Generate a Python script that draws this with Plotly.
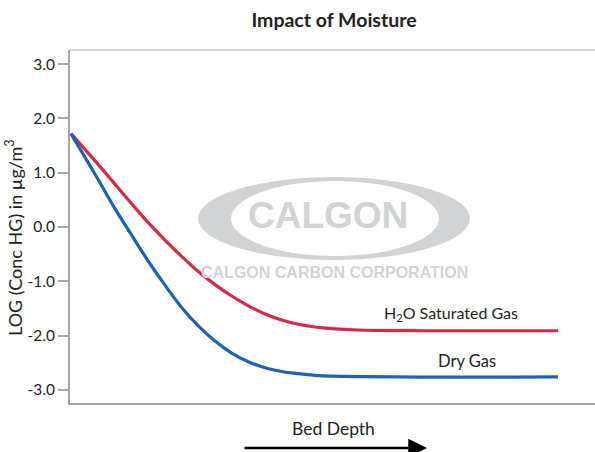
import plotly.graph_objects as go

# ---- data ----
bed_depth = [0, 5.61, 9.03, 12.46, 15.88, 19.30, 22.72, 26.15, 29.57, 32.99, 36.41,
             39.84, 43.26, 46.68, 50.10, 53.53, 60.37, 72.69, 100]
h2o_saturated = [1.72, 1.15, 0.79, 0.43, 0.08, -0.24, -0.54, -0.82, -1.06, -1.27, -1.45,
                 -1.60, -1.71, -1.79, -1.84, -1.87, -1.90, -1.91, -1.91]
dry_gas = [1.72, 0.87, 0.34, -0.15, -0.63, -1.07, -1.48, -1.82, -2.10, -2.32, -2.48,
           -2.59, -2.66, -2.70, -2.73, -2.745, -2.755, -2.765, -2.76]
y_tick_vals = [3, 2, 1, 0, -1, -2, -3]
y_tick_text = ["3.0", "2.0", "1.0", "0.0", "-1.0", "-2.0", "-3.0"]

W, H = 595, 452
L, R, T, B = 70, 0, 50, 49
PW, PH = W - L - R, H - T - B

def xp(px):
    return (px - L) / PW

def yp(py):
    return (H - B - py) / PH

FONT = "Lato, 'Open Sans', sans-serif"
RED = "#d62b46"
BLUE = "#1e63b3"
WM = "#d2d3d5"

fig = go.Figure()
fig.add_trace(go.Scatter(x=bed_depth, y=h2o_saturated, mode="lines",
                         line=dict(color=RED, width=3.2, shape="spline", smoothing=1.0),
                         name="H2O Saturated Gas", hoverinfo="skip"))
fig.add_trace(go.Scatter(x=bed_depth, y=dry_gas, mode="lines",
                         line=dict(color=BLUE, width=3.2, shape="spline", smoothing=1.0),
                         name="Dry Gas", hoverinfo="skip"))

shapes = [
    dict(type="circle", xref="paper", yref="paper", x0=xp(198), x1=xp(470), y0=yp(260), y1=yp(177),
         fillcolor=WM, line=dict(width=0), layer="below"),
    dict(type="circle", xref="paper", yref="paper", x0=xp(231), x1=xp(439), y0=yp(256), y1=yp(181),
         fillcolor="white", line=dict(width=0), layer="below"),
    dict(type="line", xref="paper", yref="paper", x0=0, x1=1, y0=1, y1=1,
         line=dict(color="#c8c8c8", width=1.5)),
]

annotations = [
    dict(text="<b>CALGON</b>", xref="paper", yref="paper", x=xp(328), y=yp(215),
         xanchor="center", yanchor="middle",
         showarrow=False, font=dict(family="Liberation Sans, Arial, sans-serif", size=37, color=WM)),
    dict(text="CALGON CARBON CORPORATION", xref="paper", yref="paper", x=xp(334), y=yp(272),
         xanchor="center", yanchor="middle",
         showarrow=False, font=dict(family="Liberation Sans, Arial, sans-serif", size=16, color=WM, weight=600)),
    dict(text="H<sub>2</sub>O Saturated Gas", xref="paper", yref="paper", x=xp(451), y=yp(313),
         xanchor="center", yanchor="middle",
         showarrow=False, font=dict(family=FONT, size=16, color="#222")),
    dict(text="Dry Gas", xref="paper", yref="paper", x=xp(467), y=yp(361),
         xanchor="center", yanchor="middle",
         showarrow=False, font=dict(family=FONT, size=16.5, color="#222")),
    dict(text="Bed Depth", xref="paper", yref="paper", x=xp(333), y=yp(428),
         xanchor="center", yanchor="middle",
         showarrow=False, font=dict(family=FONT, size=17.5, color="#222")),
    dict(text="LOG (Conc HG) in µg/m<sup>3</sup>", xref="paper", yref="paper", x=xp(14), y=yp(238),
         xanchor="center", yanchor="middle", textangle=-90,
         showarrow=False, font=dict(family=FONT, size=18, color="#222")),
    dict(text="", xref="paper", yref="paper", x=xp(427), y=yp(448), ax=-184, ay=0,
         showarrow=True, arrowhead=2, arrowsize=1.5, arrowwidth=2.5, arrowcolor="#000"),
]

fig.update_layout(
    width=W, height=H,
    margin=dict(l=L, r=R, t=T, b=B),
    paper_bgcolor="white", plot_bgcolor="white",
    showlegend=False,
    title=dict(text="<b>Impact of Moisture</b>", x=xp(334), xref="paper", xanchor="center",
               y=1 - 20 / H, yanchor="middle",
               font=dict(family=FONT, size=19.5, color="#222")),
    xaxis=dict(range=[-0.2, 107.6], showgrid=False, zeroline=False, showticklabels=False,
               ticks="", showline=True, linecolor="#a6a6a6", linewidth=2),
    yaxis=dict(range=[-3.24, 3.26], showgrid=False, zeroline=False,
               tickvals=y_tick_vals, ticktext=y_tick_text,
               ticks="outside", ticklen=10, tickcolor="#a6a6a6", tickwidth=1.5,
               showline=True, linecolor="#a6a6a6", linewidth=2,
               tickfont=dict(family=FONT, size=15.5, color="#222")),
    shapes=shapes, annotations=annotations,
)

fig.write_html("out.html", config={"displayModeBar": False},
               post_script="document.body.style.margin='0';")
